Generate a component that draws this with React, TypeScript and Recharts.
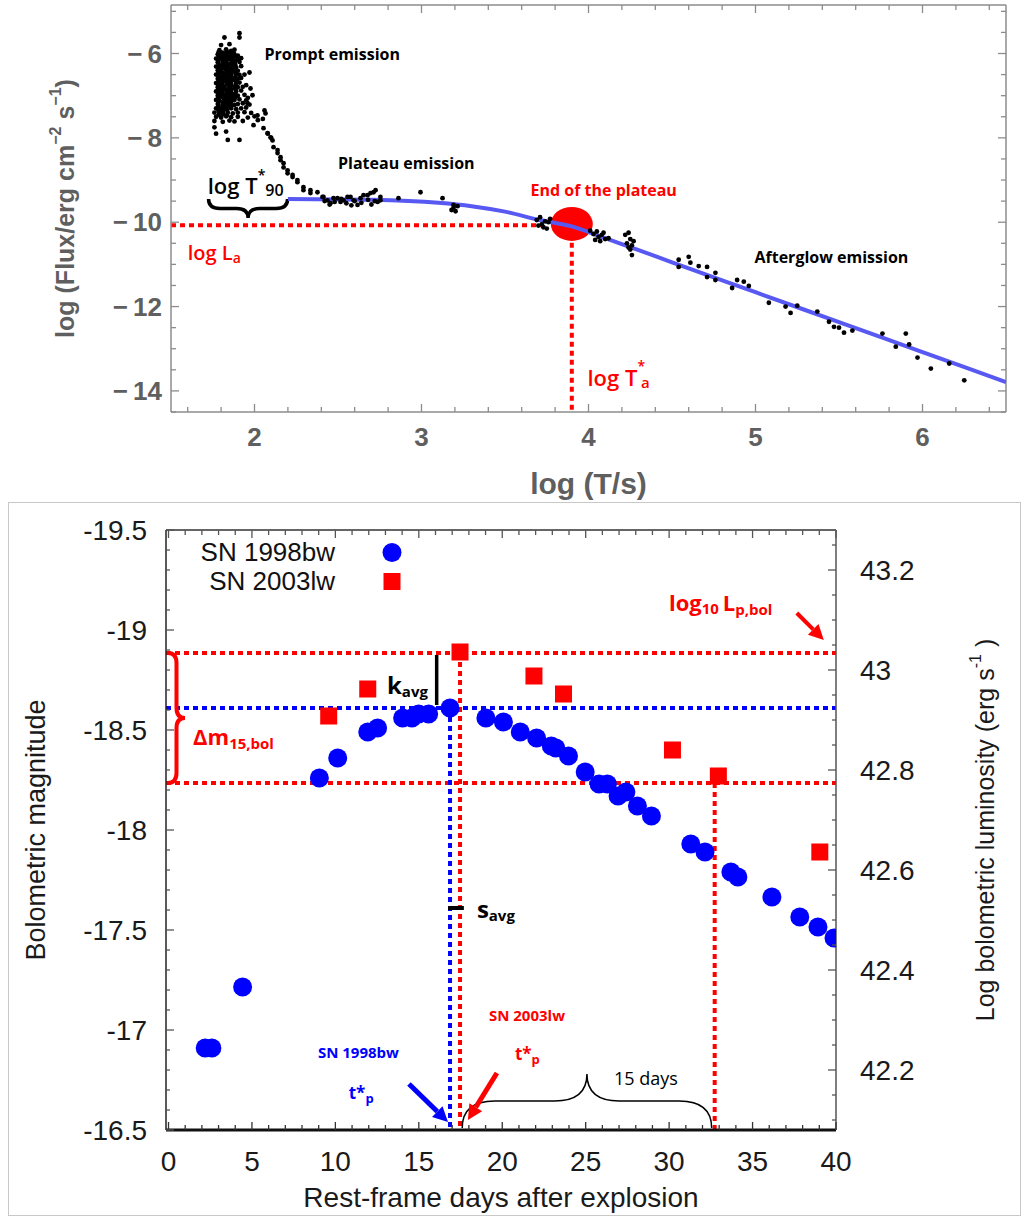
import React from 'react';
import {
  ComposedChart,
  Scatter,
  XAxis,
  YAxis,
  ReferenceLine,
  ReferenceDot,
  Legend
} from 'recharts';

// ---------- top panel: GRB light curve, log T vs log flux ----------
const promptCore: [number, number][] = [
  [1.79, -5.92], [1.83, -5.9], [1.86, -5.94], [1.88, -5.91],
  [1.78, -6.02], [1.8, -6.03], [1.83, -6.0], [1.85, -6.04], [1.88, -6.02], [1.9, -6.05],
  [1.77, -6.12], [1.8, -6.11], [1.82, -6.14], [1.85, -6.12], [1.87, -6.1], [1.9, -6.13], [1.92, -6.11],
  [1.78, -6.21], [1.81, -6.22], [1.83, -6.2], [1.86, -6.23], [1.88, -6.21], [1.91, -6.2],
  [1.77, -6.31], [1.79, -6.3], [1.82, -6.32], [1.84, -6.3], [1.87, -6.31], [1.89, -6.33], [1.92, -6.3],
  [1.78, -6.4], [1.8, -6.41], [1.83, -6.39], [1.85, -6.42], [1.88, -6.4], [1.9, -6.41],
  [1.77, -6.5], [1.79, -6.51], [1.82, -6.49], [1.84, -6.52], [1.86, -6.5], [1.89, -6.48], [1.91, -6.51], [1.94, -6.5],
  [1.78, -6.6], [1.8, -6.61], [1.83, -6.59], [1.85, -6.6], [1.87, -6.62], [1.9, -6.6], [1.92, -6.58],
  [1.77, -6.7], [1.79, -6.71], [1.81, -6.69], [1.84, -6.7], [1.86, -6.72], [1.89, -6.7], [1.91, -6.69],
  [1.78, -6.8], [1.8, -6.79], [1.82, -6.81], [1.85, -6.8], [1.88, -6.82], [1.9, -6.8], [1.93, -6.79],
  [1.77, -6.9], [1.79, -6.91], [1.81, -6.89], [1.84, -6.9], [1.86, -6.92], [1.89, -6.9], [1.92, -6.88],
  [1.78, -7.0], [1.8, -7.01], [1.83, -6.99], [1.85, -7.0], [1.87, -7.02], [1.9, -7.0], [1.94, -6.98],
  [1.77, -7.1], [1.79, -7.11], [1.82, -7.09], [1.84, -7.1], [1.86, -7.12], [1.88, -7.1], [1.91, -7.09], [1.95, -7.11],
  [1.78, -7.2], [1.81, -7.21], [1.83, -7.19], [1.85, -7.2], [1.88, -7.22], [1.9, -7.2], [1.93, -7.18], [1.97, -7.21],
  [1.77, -7.3], [1.8, -7.31], [1.82, -7.29], [1.86, -7.3], [1.89, -7.32], [1.92, -7.3], [1.95, -7.28],
  [1.76, -7.4], [1.79, -7.41], [1.81, -7.39], [1.84, -7.4], [1.87, -7.42], [1.9, -7.4], [1.94, -7.39], [1.98, -7.41],
  [1.77, -7.5], [1.8, -7.52], [1.83, -7.49], [1.86, -7.51], [1.9, -7.5], [1.96, -7.52], [2.0, -7.49],
  [1.76, -7.6], [1.81, -7.62], [1.85, -7.59], [1.88, -7.61], [1.93, -7.6], [2.02, -7.58]
];

const promptFill: [number, number][] = [
  [1.785, -5.97], [1.81, -5.98], [1.835, -5.96], [1.86, -5.97], [1.875, -5.99],
  [1.786, -6.07], [1.812, -6.06], [1.836, -6.08], [1.86, -6.07], [1.884, -6.06],
  [1.784, -6.16], [1.809, -6.17], [1.834, -6.16], [1.861, -6.15], [1.886, -6.17],
  [1.786, -6.26], [1.81, -6.27], [1.836, -6.25], [1.859, -6.26], [1.885, -6.27],
  [1.785, -6.36], [1.811, -6.35], [1.835, -6.37], [1.86, -6.36], [1.884, -6.35],
  [1.784, -6.45], [1.81, -6.46], [1.836, -6.44], [1.861, -6.45], [1.886, -6.46],
  [1.786, -6.55], [1.809, -6.56], [1.834, -6.55], [1.86, -6.54], [1.885, -6.56],
  [1.785, -6.65], [1.811, -6.64], [1.835, -6.66], [1.859, -6.65], [1.884, -6.64],
  [1.784, -6.75], [1.81, -6.76], [1.836, -6.74], [1.86, -6.75], [1.886, -6.76],
  [1.786, -6.85], [1.811, -6.84], [1.835, -6.86], [1.861, -6.85], [1.885, -6.84],
  [1.785, -6.95], [1.809, -6.96], [1.834, -6.94], [1.86, -6.95], [1.884, -6.96],
  [1.784, -7.05], [1.81, -7.04], [1.836, -7.06], [1.859, -7.05], [1.886, -7.04],
  [1.786, -7.15], [1.811, -7.16], [1.835, -7.14], [1.86, -7.15],
  [1.785, -7.25], [1.81, -7.24], [1.834, -7.26], [1.861, -7.25],
  [1.784, -7.35], [1.809, -7.36], [1.836, -7.34],
  [1.786, -7.45], [1.811, -7.44], [1.835, -7.46]
];

const promptStray: [number, number][] = [
  [1.82, -5.62], [1.91, -5.52], [1.91, -5.62], [1.8, -5.8], [1.85, -5.78],
  [1.76, -7.75], [1.77, -7.9], [1.83, -7.85], [1.84, -8.05], [1.91, -8.05],
  [1.96, -7.05], [1.97, -6.45], [1.95, -6.75], [2.06, -7.35], [2.05, -7.55],
  [2.08, -7.9], [2.1, -8.0]
];

const steepDecay: [number, number][] = [
  [1.976, -6.83], [1.988, -6.99], [1.958, -7.18], [2.018, -7.47], [1.994, -7.7],
  [2.066, -7.42], [2.054, -7.77], [2.078, -7.89], [2.096, -7.99], [2.108, -8.06],
  [2.114, -8.22], [2.138, -8.29], [2.138, -8.36], [2.156, -8.46], [2.156, -8.53],
  [2.174, -8.6], [2.174, -8.7], [2.198, -8.77], [2.198, -8.84], [2.228, -8.88],
  [2.228, -8.93], [2.257, -9.0], [2.257, -9.05], [2.293, -9.17], [2.293, -9.24],
  [2.335, -9.24], [2.335, -9.31], [2.377, -9.29], [2.407, -9.4], [2.413, -9.4],
  [2.437, -9.48], [2.455, -9.55], [2.473, -9.43], [2.497, -9.43], [2.515, -9.52],
  [2.533, -9.48], [2.557, -9.4], [2.575, -9.4], [2.593, -9.48], [2.617, -9.59],
  [2.635, -9.43], [2.653, -9.36], [2.677, -9.36], [2.695, -9.31], [2.713, -9.29],
  [2.725, -9.24], [2.737, -9.52], [2.754, -9.4], [2.754, -9.48], [2.42, -9.5],
  [2.48, -9.52], [2.52, -9.45], [2.55, -9.55], [2.6, -9.5], [2.64, -9.54],
  [2.68, -9.47], [2.72, -9.5], [2.45, -9.58], [2.58, -9.6], [2.7, -9.58]
];

const lateTime: [number, number][] = [
  [2.862, -9.43], [2.994, -9.29], [3.126, -9.43], [3.192, -9.59], [3.192, -9.66],
  [3.204, -9.74], [3.18, -9.71], [3.216, -9.62],
  [3.69, -9.95], [3.71, -9.88], [3.72, -10.05], [3.74, -9.98], [3.73, -10.12],
  [3.76, -10.0], [3.75, -10.15], [3.7, -10.08], [3.77, -9.92],
  [4.01, -10.2], [4.03, -10.28], [4.05, -10.22], [4.06, -10.35], [4.08, -10.3],
  [4.1, -10.4], [4.04, -10.42], [4.09, -10.25], [4.12, -10.38], [4.07, -10.45],
  [4.22, -10.3], [4.24, -10.25], [4.25, -10.4], [4.23, -10.5], [4.26, -10.55],
  [4.27, -10.45], [4.25, -10.65], [4.26, -10.78], [4.24, -10.6],
  [4.54, -10.89], [4.54, -11.06], [4.6, -10.82], [4.61, -10.96], [4.66, -11.04],
  [4.71, -11.06], [4.71, -11.3], [4.76, -11.2], [4.76, -11.37], [4.86, -11.56],
  [4.89, -11.37], [4.93, -11.41], [4.96, -11.51], [5.08, -11.91], [5.18, -12.0],
  [5.21, -12.15], [5.25, -11.98], [5.37, -12.12], [5.44, -12.36], [5.47, -12.48],
  [5.5, -12.5], [5.53, -12.62], [5.58, -12.57], [5.76, -12.64], [5.84, -12.95],
  [5.9, -12.64], [5.92, -12.9], [5.97, -13.21], [6.05, -13.47], [6.16, -13.35],
  [6.25, -13.75]
];

const fitCurve: [number, number][] = [
  [2.2, -9.45], [2.7, -9.47], [3.1, -9.54], [3.3, -9.62], [3.5, -9.75],
  [3.7, -9.94], [3.9, -10.1], [4.1, -10.38], [4.3, -10.66], [4.5, -10.95],
  [5.0, -11.66], [5.5, -12.37], [6.0, -13.08], [6.5, -13.79]
];

const plateauEnd: [number, number][] = [[3.9, -10.04]];
const logLa = -10.07;
const logTa = 3.9;
const topXLabels = [2, 3, 4, 5, 6];
const topYLabels = [-6, -8, -10, -12, -14];

// ---------- bottom panel: SN bolometric light curves ----------
const sn1998bw: [number, number][] = [
  [2.2, -16.91], [2.6, -16.91], [4.44, -17.215], [9.04, -18.26], [10.14, -18.36],
  [11.94, -18.49], [12.53, -18.51], [14.03, -18.56], [14.59, -18.56], [14.99, -18.58],
  [15.59, -18.58], [16.87, -18.61], [19.02, -18.56], [20.07, -18.54], [21.08, -18.49],
  [22.06, -18.46], [22.94, -18.42], [23.21, -18.41], [23.97, -18.37], [24.97, -18.29],
  [25.8, -18.23], [26.3, -18.23], [26.94, -18.17], [27.41, -18.19], [28.1, -18.12],
  [28.94, -18.07], [31.3, -17.93], [32.15, -17.89], [33.7, -17.79], [34.12, -17.765],
  [36.16, -17.665], [37.83, -17.565], [38.92, -17.515], [39.88, -17.46]
];

const sn2003lw: [number, number][] = [
  [9.6, -18.57], [11.94, -18.705], [17.47, -18.89], [21.9, -18.77], [23.67, -18.68],
  [30.2, -18.4], [32.95, -18.27], [39.03, -17.89]
];

const dayLabels = [0, 5, 10, 15, 20, 25, 30, 35, 40];
const magLabels = [-19.5, -19, -18.5, -18, -17.5, -17, -16.5];
const lumLabels = [42.2, 42.4, 42.6, 42.8, 43, 43.2];

const tPeak98 = 16.87;
const tPeak03 = 17.47;
const tPlus15 = 32.73;
const magPeak98 = -18.61;
const magPeak03 = -18.885;
const mag15 = -18.235;

// ---------- helpers ----------
const toXY = (pts: [number, number][]) => pts.map(([x, y]) => ({ x, y }));
const steps = (a: number, b: number, s: number) => {
  const out: number[] = [];
  for (let v = a; v <= b + 1e-9; v += s) out.push(Math.round(v * 1000) / 1000);
  return out;
};

const SANS = '"Liberation Sans", Arial, sans-serif';
const NOTE = '"Open Sans", "Noto Sans", sans-serif';
const RED = '#ff0000';
const BLUE = '#0000ff';
const GREY = '#5f5f5f';

type Side = 'bottom' | 'top' | 'left' | 'right';
function axisTick(
  side: Side,
  labels: number[],
  o: { major: number; minor: number; gap?: number; stroke: string; fmt?: (v: number) => string; font?: any }
) {
  return (props: any) => {
    const { x, y, payload } = props;
    const v = payload.value;
    const isMajor = labels.some((l) => Math.abs(l - v) < 1e-6);
    const len = isMajor ? o.major : o.minor;
    const dir = { bottom: [0, -1], top: [0, 1], left: [1, 0], right: [-1, 0] }[side];
    let label = null;
    if (isMajor && o.fmt) {
      const g = o.gap || 0;
      if (side === 'bottom')
        label = <text x={x} y={y + g} textAnchor="middle" dominantBaseline="central" {...o.font}>{o.fmt(v)}</text>;
      if (side === 'left')
        label = <text x={x - g} y={y} textAnchor="end" dominantBaseline="central" {...o.font}>{o.fmt(v)}</text>;
      if (side === 'right')
        label = <text x={x + g} y={y} textAnchor="start" dominantBaseline="central" {...o.font}>{o.fmt(v)}</text>;
    }
    return (
      <g>
        <line x1={x} y1={y} x2={x + dir[0] * len} y2={y + dir[1] * len} stroke={o.stroke} strokeWidth={1.3} />
        {label}
      </g>
    );
  };
}

function bracePath(x1: number, y1: number, x2: number, y2: number, depth: number) {
  const len = Math.hypot(x2 - x1, y2 - y1);
  const ux = (x2 - x1) / len;
  const uy = (y2 - y1) / len;
  const nx = -uy;
  const ny = ux;
  const h = depth / 2;
  const q = Math.min(Math.abs(depth) * 0.6, len / 6);
  const mx = (x1 + x2) / 2;
  const my = (y1 + y2) / 2;
  const P = (bx: number, by: number, a: number, b: number) => `${bx + nx * a + ux * b},${by + ny * a + uy * b}`;
  return `M${x1},${y1} Q${P(x1, y1, h, 0)} ${P(x1, y1, h, q)} L${P(mx, my, h, -q)} Q${P(mx, my, h, 0)} ${P(mx, my, depth, 0)} Q${P(mx, my, h, 0)} ${P(mx, my, h, q)} L${P(x2, y2, h, -q)} Q${P(x2, y2, h, 0)} ${x2},${y2}`;
}

const braceShape = (depth: number, color: string, width: number) => (p: any) => (
  <path d={bracePath(p.x1, p.y1, p.x2, p.y2, depth)} fill="none" stroke={color} strokeWidth={width} />
);

const arrowShape = (color: string, width: number) => (p: any) => {
  const { x1, y1, x2, y2 } = p;
  const a = Math.atan2(y2 - y1, x2 - x1);
  const head = 15;
  const half = 7.5;
  const bx = x2 - head * Math.cos(a);
  const by = y2 - head * Math.sin(a);
  const px = -Math.sin(a) * half;
  const py = Math.cos(a) * half;
  return (
    <g>
      <line x1={x1} y1={y1} x2={bx} y2={by} stroke={color} strokeWidth={width} />
      <polygon points={`${x2},${y2} ${bx + px},${by + py} ${bx - px},${by - py}`} fill={color} />
    </g>
  );
};

const note = (key: string, x: number, y: number, content: React.ReactNode, style: any) => (
  <ReferenceDot
    key={key}
    x={x}
    y={y}
    r={0}
    shape={(p: any) => (
      <text x={p.cx} y={p.cy} dominantBaseline="central" {...style}>
        {content}
      </text>
    )}
  />
);

const vTitle = (dx: number, content: React.ReactNode, style: any) => (props: any) => {
  const vb = props.viewBox;
  const cx = vb.x + dx;
  const cy = vb.y + vb.height / 2;
  return (
    <text x={cx} y={cy} transform={`rotate(-90 ${cx} ${cy})`} textAnchor="middle" dominantBaseline="central" {...style}>
      {content}
    </text>
  );
};
const hTitle = (dy: number, content: React.ReactNode, style: any) => (props: any) => {
  const vb = props.viewBox;
  return (
    <text x={vb.x + vb.width / 2} y={vb.y + dy} textAnchor="middle" dominantBaseline="central" {...style}>
      {content}
    </text>
  );
};

const dotted = { strokeDasharray: '5 4', strokeWidth: 4 };

// ---------- top panel ----------
function GrbPanel() {
  const tickFont = { fontFamily: SANS, fontWeight: 700, fontSize: 26, fill: GREY };
  const small = (p: any) => <circle cx={p.cx} cy={p.cy} r={2.4} fill="#000" />;
  const black = { fontFamily: NOTE, fontWeight: 700, fontSize: 16, fill: '#000' };
  const red = { fontFamily: NOTE, fontWeight: 700, fontSize: 16, fill: RED };
  const frame = { stroke: '#8c8c8c', strokeWidth: 1.5 };
  return (
    <ComposedChart width={1028} height={500} margin={{ top: 4, right: 21, bottom: 0, left: 0 }}>
      <XAxis
        dataKey="x"
        type="number"
        domain={[1.5, 6.5]}
        allowDataOverflow
        ticks={steps(1.6, 6.4, 0.2)}
        interval={0}
        height={88}
        tickSize={0}
        tickMargin={0}
        tickLine={false}
        axisLine={frame}
        tick={axisTick('bottom', topXLabels, { major: 8, minor: 5, gap: 25, stroke: '#8c8c8c', fmt: (v) => String(v), font: tickFont })}
        label={hTitle(71, 'log (T/s)', { fontFamily: SANS, fontWeight: 700, fontSize: 30, fill: GREY })}
      />
      <XAxis
        xAxisId="top"
        orientation="top"
        dataKey="x"
        type="number"
        domain={[1.5, 6.5]}
        allowDataOverflow
        ticks={steps(1.6, 6.4, 0.2)}
        interval={0}
        height={1}
        tickSize={0}
        tickMargin={0}
        tickLine={false}
        axisLine={frame}
        tick={axisTick('top', topXLabels, { major: 8, minor: 5, stroke: '#8c8c8c' })}
      />
      <YAxis
        dataKey="y"
        type="number"
        domain={[-14.5, -4.85]}
        allowDataOverflow
        ticks={steps(-14.5, -5, 0.5)}
        interval={0}
        width={171}
        tickSize={0}
        tickMargin={0}
        tickLine={false}
        axisLine={frame}
        tick={axisTick('left', topYLabels, { major: 8, minor: 5, gap: 9, stroke: '#8c8c8c', fmt: (v) => `\u2212\u2009${-v}`, font: tickFont })}
        label={vTitle(65, (
          <>
            <tspan>log (Flux/erg cm</tspan>
            <tspan dy={-10} fontSize={16}>−2</tspan>
            <tspan dy={10}> s</tspan>
            <tspan dy={-10} fontSize={16}>−1</tspan>
            <tspan dy={10}>)</tspan>
          </>
        ), { fontFamily: SANS, fontWeight: 700, fontSize: 25, fill: GREY })}
      />
      <YAxis
        yAxisId="r"
        orientation="right"
        dataKey="y"
        type="number"
        domain={[-14.5, -4.85]}
        allowDataOverflow
        ticks={steps(-14.5, -5, 0.5)}
        interval={0}
        width={1}
        tickSize={0}
        tickMargin={0}
        tickLine={false}
        axisLine={frame}
        tick={axisTick('right', topYLabels, { major: 8, minor: 5, stroke: '#8c8c8c' })}
      />

      <ReferenceLine segment={[{ x: 1.5, y: logLa }, { x: 3.73, y: logLa }]} stroke={RED} {...dotted} />
      <ReferenceLine segment={[{ x: logTa, y: -10.49 }, { x: logTa, y: -14.5 }]} stroke={RED} {...dotted} />

      <Scatter
        data={toXY(plateauEnd)}
        dataKey="y"
        isAnimationActive={false}
        shape={(p: any) => <ellipse cx={p.cx} cy={p.cy} rx={21} ry={17} fill={RED} />}
      />
      <Scatter
        data={toXY(fitCurve)}
        dataKey="y"
        isAnimationActive={false}
        line={{ stroke: '#5858f2', strokeWidth: 4 }}
        lineJointType="monotoneX"
        shape={() => <g />}
      />
      <Scatter data={toXY(promptCore)} dataKey="y" isAnimationActive={false} shape={small} />
      <Scatter data={toXY(promptFill)} dataKey="y" isAnimationActive={false} shape={small} />
      <Scatter data={toXY(promptStray)} dataKey="y" isAnimationActive={false} shape={small} />
      <Scatter data={toXY(steepDecay)} dataKey="y" isAnimationActive={false} shape={small} />
      <Scatter data={toXY(lateTime)} dataKey="y" isAnimationActive={false} shape={small} />

      <ReferenceLine segment={[{ x: 1.725, y: -9.45 }, { x: 2.198, y: -9.45 }]} shape={braceShape(19, '#000', 3.5)} />

      {note('prompt', 2.06, -6.02, 'Prompt emission', black)}
      {note('plateau', 2.5, -8.6, 'Plateau emission', black)}
      {note('after', 4.994, -10.82, 'Afterglow emission', black)}
      {note('end', 3.653, -9.24, 'End of the plateau', red)}
      {note('t90', 1.72, -9.12, (
        <>
          <tspan>log T</tspan>
          <tspan dy={-11} fontSize={14}>*</tspan>
          <tspan dy={16} fontSize={16}>90</tspan>
        </>
      ), { fontFamily: NOTE, fontWeight: 600, fontSize: 22, fill: '#000' })}
      {note('la', 1.6, -10.7, (
        <>
          <tspan>log L</tspan>
          <tspan dy={5} fontSize={14}>a</tspan>
        </>
      ), { fontFamily: NOTE, fontWeight: 600, fontSize: 20, fill: RED })}
      {note('ta', 3.994, -13.68, (
        <>
          <tspan>log T</tspan>
          <tspan dy={-12} fontSize={14}>*</tspan>
          <tspan dy={17} dx={-4} fontSize={15}>a</tspan>
        </>
      ), { fontFamily: NOTE, fontWeight: 600, fontSize: 22, fill: RED })}
    </ComposedChart>
  );
}

// ---------- bottom panel ----------
function SnLegend() {
  const row = { display: 'flex', alignItems: 'center', height: 29 } as const;
  const txt = { width: 165, textAlign: 'right' as const, fontSize: 26, lineHeight: '29px', color: '#111', fontFamily: SANS };
  return (
    <div>
      <div style={row}>
        <span style={txt}>SN 1998bw</span>
        <svg width={80} height={29}>
          <circle cx={57} cy={14.5} r={9.5} fill={BLUE} />
        </svg>
      </div>
      <div style={row}>
        <span style={txt}>SN 2003lw</span>
        <svg width={80} height={29}>
          <rect x={48.5} y={6} width={17} height={17} fill={RED} />
        </svg>
      </div>
    </div>
  );
}

function SnPanel() {
  const tickFont = { fontFamily: SANS, fontSize: 28, fill: '#1a1a1a' };
  const bold = (fill: string, size: number) => ({ fontFamily: NOTE, fontWeight: 700, fontSize: size, fill });
  return (
    <ComposedChart width={1028} height={715} margin={{ top: 27, right: 0, bottom: 0, left: 0 }}>
      <XAxis
        dataKey="x"
        type="number"
        domain={[-0.15, 40]}
        allowDataOverflow
        ticks={steps(0, 40, 1)}
        interval={0}
        height={87}
        tickSize={0}
        tickMargin={0}
        tickLine={false}
        axisLine={{ stroke: '#111', strokeWidth: 3 }}
        tick={axisTick('bottom', dayLabels, { major: 8, minor: 5, gap: 31, stroke: '#333', fmt: (v) => String(v), font: tickFont })}
        label={hTitle(67, 'Rest-frame days after explosion', { fontFamily: SANS, fontSize: 28, fill: '#1a1a1a' })}
      />
      <XAxis
        xAxisId="top"
        orientation="top"
        dataKey="x"
        type="number"
        domain={[-0.15, 40]}
        allowDataOverflow
        ticks={steps(0, 40, 1)}
        interval={0}
        height={1}
        tickSize={0}
        tickMargin={0}
        tickLine={false}
        axisLine={{ stroke: '#333', strokeWidth: 1.5 }}
        tick={axisTick('top', dayLabels, { major: 8, minor: 5, stroke: '#555' })}
      />
      <YAxis
        dataKey="y"
        type="number"
        reversed
        domain={[-19.5, -16.5]}
        allowDataOverflow
        ticks={steps(-19.5, -16.5, 0.1)}
        interval={0}
        width={166}
        tickSize={0}
        tickMargin={0}
        tickLine={false}
        axisLine={{ stroke: '#222', strokeWidth: 1.5 }}
        tick={axisTick('left', magLabels, { major: 8, minor: 4, gap: 19, stroke: '#555', fmt: (v) => String(v), font: tickFont })}
        label={vTitle(36, 'Bolometric magnitude', { fontFamily: SANS, fontSize: 27, fill: '#1a1a1a' })}
      />
      <YAxis
        yAxisId="lum"
        orientation="right"
        dataKey="y"
        type="number"
        domain={[42.08, 43.28]}
        allowDataOverflow
        ticks={steps(42.1, 43.25, 0.05)}
        interval={0}
        width={192}
        tickSize={0}
        tickMargin={0}
        tickLine={false}
        axisLine={{ stroke: '#555', strokeWidth: 1.5 }}
        tick={axisTick('right', lumLabels, { major: 8, minor: 4, gap: 24, stroke: '#555', fmt: (v) => String(v), font: tickFont })}
        label={vTitle(149, (
          <>
            <tspan>Log bolometric luminosity (erg s</tspan>
            <tspan dy={-10} fontSize={16}>-1</tspan>
            <tspan dy={10}> )</tspan>
          </>
        ), { fontFamily: SANS, fontSize: 25, fill: '#1a1a1a' })}
      />

      <Legend
        layout="vertical"
        align="center"
        verticalAlign="middle"
        wrapperStyle={{ left: 170, top: 36, width: 260 }}
        content={() => <SnLegend />}
      />

      <ReferenceLine y={magPeak03} stroke={RED} {...dotted} />
      <ReferenceLine y={mag15} stroke={RED} {...dotted} />
      <ReferenceLine y={magPeak98} stroke={BLUE} {...dotted} />
      <ReferenceLine segment={[{ x: tPeak98, y: magPeak98 }, { x: tPeak98, y: -16.5 }]} stroke={BLUE} {...dotted} />
      <ReferenceLine segment={[{ x: tPeak03, y: magPeak03 }, { x: tPeak03, y: -16.5 }]} stroke={RED} {...dotted} />
      <ReferenceLine segment={[{ x: tPlus15, y: mag15 }, { x: tPlus15, y: -16.5 }]} stroke={RED} {...dotted} />

      <Scatter
        name="SN 1998bw"
        data={toXY(sn1998bw)}
        dataKey="y"
        isAnimationActive={false}
        shape={(p: any) => <circle cx={p.cx} cy={p.cy} r={9.5} fill={BLUE} />}
      />
      <Scatter
        name="SN 2003lw"
        data={toXY(sn2003lw)}
        dataKey="y"
        isAnimationActive={false}
        shape={(p: any) => <rect x={p.cx - 8.5} y={p.cy - 8.5} width={17} height={17} fill={RED} />}
      />

      <ReferenceLine segment={[{ x: 16.07, y: -18.875 }, { x: 16.07, y: -18.625 }]} stroke="#000" strokeWidth={3.5} />
      <ReferenceLine segment={[{ x: 16.75, y: -17.61 }, { x: 17.7, y: -17.61 }]} stroke="#000" strokeWidth={4} />
      <ReferenceLine segment={[{ x: -0.03, y: magPeak03 }, { x: -0.03, y: mag15 }]} shape={braceShape(-17, RED, 4)} />
      <ReferenceLine segment={[{ x: 17.6, y: -16.51 }, { x: 32.55, y: -16.51 }]} shape={braceShape(-54, '#000', 1.5)} />
      <ReferenceLine segment={[{ x: 14.41, y: -16.73 }, { x: 16.75, y: -16.54 }]} shape={arrowShape(BLUE, 5)} />
      <ReferenceLine segment={[{ x: 19.68, y: -16.785 }, { x: 17.94, y: -16.55 }]} shape={arrowShape(RED, 5)} />
      <ReferenceLine segment={[{ x: 37.65, y: -19.085 }, { x: 39.27, y: -18.95 }]} shape={arrowShape(RED, 4)} />

      {note('kavg', 13.09, -18.73, (
        <>
          <tspan>k</tspan>
          <tspan dy={7} fontSize={15}>avg</tspan>
        </>
      ), bold('#000', 24))}
      {note('savg', 18.48, -17.61, (
        <>
          <tspan>s</tspan>
          <tspan dy={7} fontSize={15}>avg</tspan>
        </>
      ), bold('#000', 24))}
      {note('dm15', 1.47, -18.47, (
        <>
          <tspan>Δm</tspan>
          <tspan dy={7} fontSize={15}>15,bol</tspan>
        </>
      ), bold(RED, 22))}
      {note('lp', 29.99, -19.14, (
        <>
          <tspan>log</tspan>
          <tspan dy={6} fontSize={15}>10 </tspan>
          <tspan dy={-6}>L</tspan>
          <tspan dy={7} fontSize={15}>p,bol</tspan>
        </>
      ), bold(RED, 22))}
      {note('n03', 21.48, -17.075, 'SN 2003lw', { ...bold(RED, 15), textAnchor: 'middle' })}
      {note('n98', 11.38, -16.89, 'SN 1998bw', { ...bold(BLUE, 15), textAnchor: 'middle' })}
      {note('tp98', 10.8, -16.69, (
        <>
          <tspan>t*</tspan>
          <tspan dy={6} fontSize={13}>p</tspan>
        </>
      ), bold(BLUE, 17))}
      {note('tp03', 20.76, -16.885, (
        <>
          <tspan>t*</tspan>
          <tspan dy={6} fontSize={13}>p</tspan>
        </>
      ), bold(RED, 17))}
      {note('d15', 26.69, -16.76, '15 days', { fontFamily: NOTE, fontSize: 18, fill: '#000' })}
    </ComposedChart>
  );
}

export default function App() {
  return (
    <div style={{ position: 'absolute', left: 0, top: 0, width: 1028, height: 1217, background: '#fff', fontFamily: SANS }}>
      <div style={{ position: 'absolute', left: 0, top: 0 }}>
        <GrbPanel />
      </div>
      <div style={{ position: 'absolute', left: 8, top: 502, width: 1011, height: 712, border: '1px solid #c8c8c8' }} />
      <div style={{ position: 'absolute', left: 0, top: 502 }}>
        <SnPanel />
      </div>
    </div>
  );
}
